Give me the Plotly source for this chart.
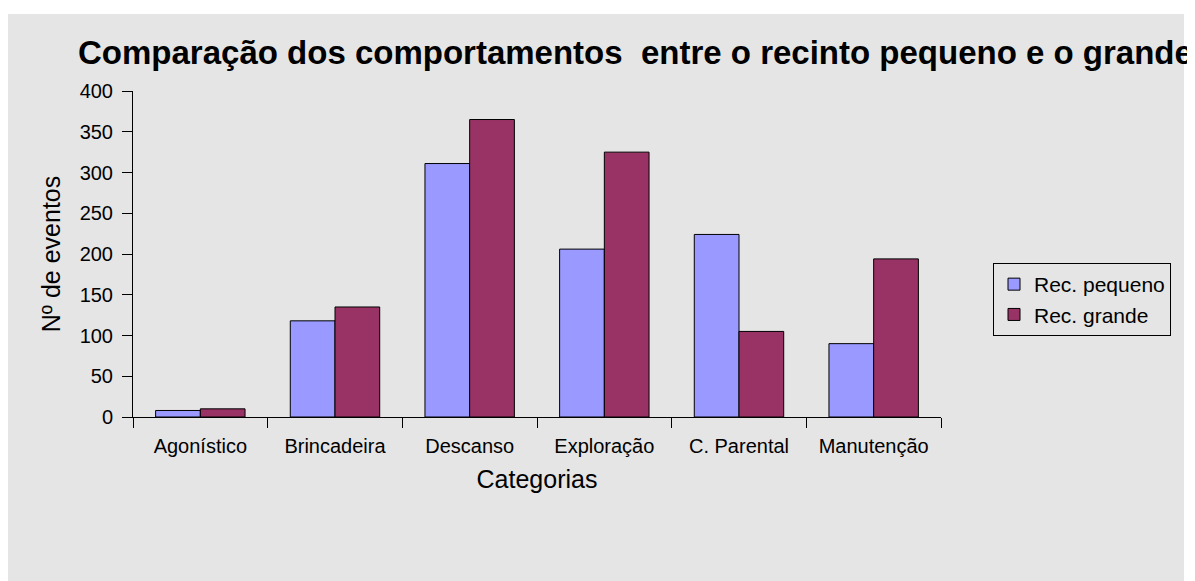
import plotly.graph_objects as go

categories = ["Agonístico", "Brincadeira", "Descanso", "Exploração", "C. Parental", "Manutenção"]
rec_pequeno = [8, 118, 311, 206, 224, 90]
rec_grande = [10, 135, 365, 325, 105, 194]
series_names = ["Rec. pequeno", "Rec. grande"]
title_text = "Comparação dos comportamentos  entre o recinto pequeno e o grande"

FONT = "Liberation Sans, Arial, sans-serif"
BG = "#e5e5e5"

# figure sits inside the page's 8px body margin
W, H = 1187, 573
L, R, T, B = 125, 254, 83, 164
pw, ph = W - L - R, H - T - B


def px_x(x):
    return (x - L) / pw


def px_y(y):
    return (H - B - y) / ph


fig = go.Figure()
fig.add_trace(go.Bar(x=categories, y=rec_pequeno, name=series_names[0],
                     marker=dict(color="#9999ff", line=dict(color="#000000", width=1))))
fig.add_trace(go.Bar(x=categories, y=rec_grande, name=series_names[1],
                     marker=dict(color="#993366", line=dict(color="#000000", width=1))))

fig.add_shape(type="rect", xref="paper", yref="paper",
              x0=px_x(0), x1=px_x(1176), y0=px_y(H + 2), y1=px_y(6),
              fillcolor=BG, line=dict(width=0), layer="below")

fig.update_layout(
    width=W, height=H,
    margin=dict(l=L, r=R, t=T, b=B, autoexpand=False),
    paper_bgcolor="white",
    plot_bgcolor="rgba(0,0,0,0)",
    barmode="group",
    bargap=0.336,
    bargroupgap=0,
    font=dict(family=FONT, color="black", size=20),
    title=dict(text="<b>" + title_text + "</b>", x=70 / W, xanchor="left",
               y=1 - 44 / H, yanchor="middle", yref="container",
               font=dict(family=FONT, size=33, color="black")),
    legend=dict(x=px_x(985), y=px_y(255), xanchor="left", yanchor="top",
                bgcolor=BG, bordercolor="black", borderwidth=1,
                font=dict(family=FONT, size=21, color="black"),
                tracegroupgap=0),
    showlegend=True,
)

fig.update_xaxes(
    showline=True, linecolor="black", linewidth=1,
    ticks="outside", tickson="boundaries", ticklen=10, tickcolor="black",
    showgrid=False, zeroline=False, ticklabelstandoff=11,
    tickfont=dict(family=FONT, size=20),
    title=dict(text="Categorias", font=dict(family=FONT, size=25), standoff=14),
)
fig.update_yaxes(
    range=[0, 400], dtick=50,
    showline=True, linecolor="black", linewidth=1,
    ticks="outside", ticklen=10, tickcolor="black",
    showgrid=False, zeroline=False, ticklabelstandoff=5,
    tickfont=dict(family=FONT, size=20),
    title=dict(text="Nº de eventos", font=dict(family=FONT, size=25), standoff=11),
)

fig.write_html("out.html", config={"displayModeBar": False})
